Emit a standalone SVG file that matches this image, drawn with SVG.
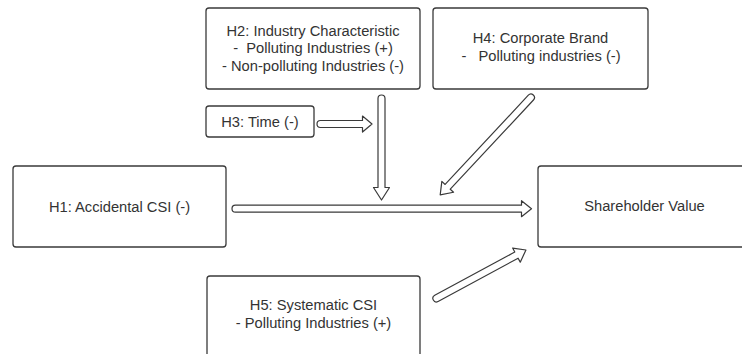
<svg xmlns="http://www.w3.org/2000/svg" width="742" height="354" viewBox="0 0 742 354">
<style>
.box{fill:#fff;stroke:#3a3a3a;stroke-width:1.3}
.t{font-family:"Liberation Sans",Arial,sans-serif;font-size:14.7px;fill:#333;text-anchor:middle}
.arr{fill:#fff;stroke:#3a3a3a;stroke-width:1.2;stroke-linejoin:round}
</style>
<rect width="742" height="354" fill="#fff"/>
<g id="H2">
<rect class="box" x="206" y="8" width="214" height="81" rx="3"/>
<text class="t" x="313" y="35.5">H2: Industry Characteristic</text>
<text class="t" x="313" y="53" xml:space="preserve">-  Polluting Industries (+)</text>
<text class="t" x="313" y="71">- Non-polluting Industries (-)</text>
</g>
<g id="H3">
<rect class="box" x="206" y="106" width="108" height="31" rx="3"/>
<text class="t" x="260" y="126.5">H3: Time (-)</text>
</g>
<g id="H4">
<rect class="box" x="433" y="8" width="215" height="81" rx="3"/>
<text class="t" x="540.5" y="43">H4: Corporate Brand</text>
<text class="t" x="541" y="61" xml:space="preserve">-   Polluting industries (-)</text>
</g>
<g id="H1">
<rect class="box" x="13" y="166" width="213" height="81" rx="3"/>
<text class="t" x="119.5" y="212">H1: Accidental CSI (-)</text>
</g>
<g id="SV">
<rect class="box" x="538" y="166" width="214" height="81" rx="3"/>
<text class="t" x="644.5" y="211">Shareholder Value</text>
</g>
<g id="H5">
<rect class="box" x="207" y="276" width="213" height="82" rx="3"/>
<text class="t" x="313.5" y="310">H5: Systematic CSI</text>
<text class="t" x="313.5" y="328">- Polluting Industries (+)</text>
</g>
<g id="connectors">
<path class="arr" transform="translate(320.5,124)" d="M0,-3.5 L42,-3.5 L42,-8 L51.5,0 L42,8 L42,3.5 L0,3.5 A3.5,3.5 0 0 1 0,-3.5 Z"/>
<path class="arr" transform="translate(381.5,98.5) rotate(90)" d="M0,-3.5 L89,-3.5 L89,-8 L101.5,0 L89,8 L89,3.5 L0,3.5 A3.5,3.5 0 0 1 0,-3.5 Z"/>
<path class="arr" transform="translate(235.5,208.7)" d="M0,-3.5 L286,-3.5 L286,-8 L296,0 L286,8 L286,3.5 L0,3.5 A3.5,3.5 0 0 1 0,-3.5 Z"/>
<path class="arr" transform="translate(530.9,97.6) rotate(133)" d="M0,-3.5 L122,-3.5 L122,-8 L133,0 L122,8 L122,3.5 L0,3.5 A3.5,3.5 0 0 1 0,-3.5 Z"/>
<path class="arr" transform="translate(436.4,298.4) rotate(-28.4)" d="M0,-3.5 L91,-3.5 L91,-8 L101.8,0 L91,8 L91,3.5 L0,3.5 A3.5,3.5 0 0 1 0,-3.5 Z"/>
</g>
</svg>
